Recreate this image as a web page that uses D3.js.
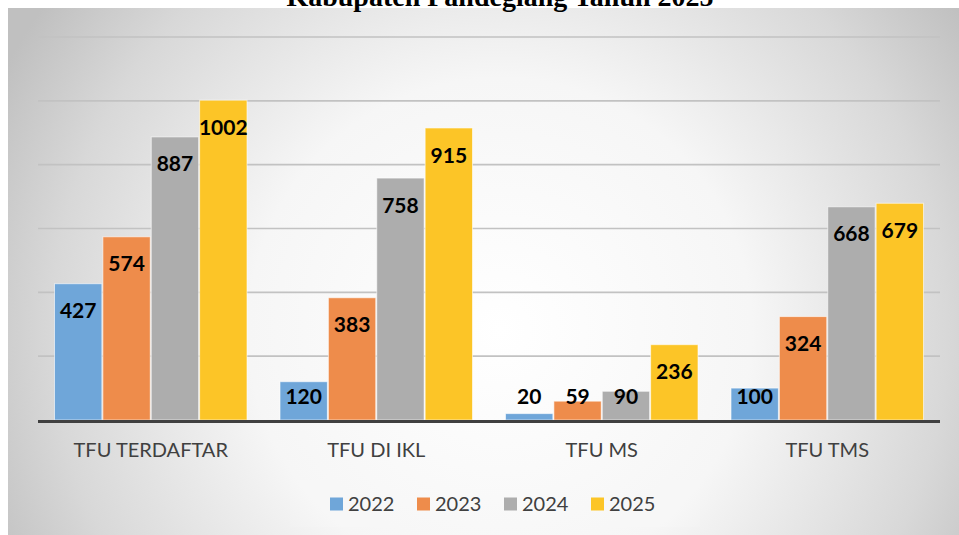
<!DOCTYPE html>
<html>
<head>
<meta charset="utf-8">
<script src="https://cdn.jsdelivr.net/npm/d3@7"></script>
<style>
  body { margin: 0; background: #fff; }
  svg { display: block; }
</style>
</head>
<body>
<script>
var categories = ["TFU TERDAFTAR", "TFU DI IKL", "TFU MS", "TFU TMS"];
var years = ["2022", "2023", "2024", "2025"];
var values2022 = [427, 120, 20, 100];
var values2023 = [574, 383, 59, 324];
var values2024 = [887, 758, 90, 668];
var values2025 = [1002, 915, 236, 679];
var gridTicks = [200, 400, 600, 800, 1000, 1200];
var colors = ["#6fa6d9", "#ee8c4b", "#adadad", "#fcc527"];

var seriesValues = [values2022, values2023, values2024, values2025];

var width = 959,
    height = 535;

var plot = {left: 38, right: 940, top: 37, bottom: 420};

var svg = d3.select("body")
    .append("svg")
    .attr("width", width)
    .attr("height", height);

// background gradient
var defs = svg.append("defs");
var grad = defs.append("radialGradient")
    .attr("id", "bg")
    .attr("gradientUnits", "userSpaceOnUse")
    .attr("cx", 500)
    .attr("cy", 330)
    .attr("r", 560);
grad.append("stop").attr("offset", 0).attr("stop-color", "#ffffff");
grad.append("stop").attr("offset", 0.45).attr("stop-color", "#f6f6f6");
grad.append("stop").attr("offset", 0.8).attr("stop-color", "#d8d8d8");
grad.append("stop").attr("offset", 1).attr("stop-color", "#c0c0c0");

svg.append("rect")
    .attr("x", 8)
    .attr("y", 8)
    .attr("width", width - 8)
    .attr("height", height - 8)
    .attr("fill", "url(#bg)");

// title, cut off at the top like the source
svg.append("text")
    .attr("x", 500)
    .attr("y", 6)
    .attr("text-anchor", "middle")
    .style("font-family", "'Liberation Serif', serif")
    .style("font-weight", "bold")
    .style("font-size", "28px")
    .style("fill", "#000")
    .text("Kabupaten Pandeglang Tahun 2025");

var x0 = d3.scaleBand()
    .domain(categories)
    .range([plot.left, plot.right]);

var x1 = d3.scaleBand()
    .domain(years)
    .range([16, x0.bandwidth() - 16]);

var y = d3.scaleLinear()
    .domain([0, 1200])
    .range([plot.bottom, plot.top]);

// gridlines
svg.append("g")
    .selectAll("line")
    .data(gridTicks)
    .enter().append("line")
    .attr("x1", plot.left)
    .attr("x2", plot.right)
    .attr("y1", function(d) { return y(d); })
    .attr("y2", function(d) { return y(d); })
    .attr("stroke", "#c2c2c2")
    .attr("stroke-width", 1.6);

// bars
var groups = svg.append("g")
    .selectAll("g")
    .data(categories)
    .enter().append("g")
    .attr("transform", function(d) { return "translate(" + x0(d) + ",0)"; });

var barData = function(c, i) {
    return years.map(function(yr, j) {
        return {year: yr, value: seriesValues[j][i], color: colors[j]};
    });
};

groups.selectAll("rect")
    .data(barData)
    .enter().append("rect")
    .attr("x", function(d) { return x1(d.year) + 0.5; })
    .attr("width", x1.bandwidth() - 1)
    .attr("y", function(d) { return y(d.value); })
    .attr("height", function(d) { return y(0) - y(d.value); })
    .attr("fill", function(d) { return d.color; })
    .attr("stroke", "rgba(255,255,255,0.6)")
    .attr("stroke-width", 1);

// value labels (inside end)
groups.selectAll("text")
    .data(barData)
    .enter().append("text")
    .attr("x", function(d) { return x1(d.year) + x1.bandwidth() / 2; })
    .attr("y", function(d) { return Math.min(y(d.value) + 27, plot.bottom - 24); })
    .attr("dy", "0.36em")
    .attr("text-anchor", "middle")
    .style("font-family", "Lato, sans-serif")
    .style("font-weight", "bold")
    .style("font-size", "21px")
    .style("fill", "#000")
    .text(function(d) { return d.value; });

// baseline
svg.append("line")
    .attr("x1", plot.left)
    .attr("x2", plot.right)
    .attr("y1", y(0) + 1.5)
    .attr("y2", y(0) + 1.5)
    .attr("stroke", "#404040")
    .attr("stroke-width", 3);

// category labels
svg.append("g")
    .selectAll("text")
    .data(categories)
    .enter().append("text")
    .attr("x", function(d) { return x0(d) + x0.bandwidth() / 2; })
    .attr("y", 450)
    .attr("dy", "0.36em")
    .attr("text-anchor", "middle")
    .style("font-family", "Lato, sans-serif")
    .style("font-size", "20px")
    .style("fill", "#404040")
    .text(function(d) { return d; });

// legend
var legendStep = 87,
    legendX = 330,
    legendY = 504;

svg.append("rect")
    .attr("x", 290)
    .attr("y", 480)
    .attr("width", 410)
    .attr("height", 47)
    .attr("fill", "#ffffff")
    .attr("fill-opacity", 0.1);

var legend = svg.append("g")
    .selectAll("g")
    .data(years)
    .enter().append("g")
    .attr("transform", function(d, i) {
        return "translate(" + (legendX + i * legendStep) + "," + legendY + ")";
    });

legend.append("rect")
    .attr("x", 0)
    .attr("y", -6.5)
    .attr("width", 13)
    .attr("height", 13)
    .attr("fill", function(d, i) { return colors[i]; });

legend.append("text")
    .attr("x", 18)
    .attr("y", 0)
    .attr("dy", "0.36em")
    .style("font-family", "Lato, sans-serif")
    .style("font-size", "20px")
    .style("fill", "#404040")
    .text(function(d) { return d; });
</script>
</body>
</html>
